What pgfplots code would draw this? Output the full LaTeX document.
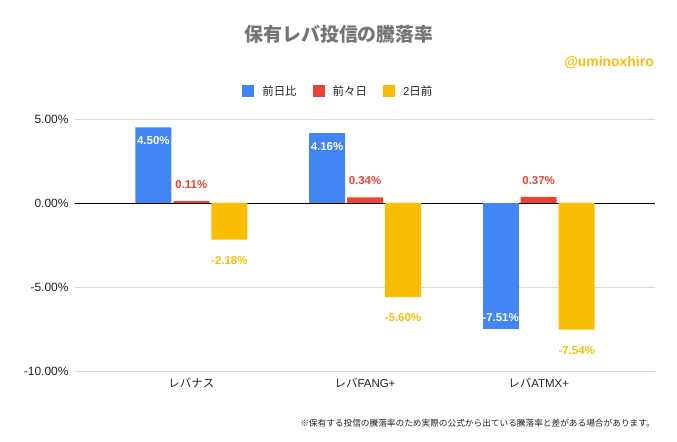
\documentclass[border=0pt]{standalone}
\usepackage{fontspec}
\setmainfont{Liberation Sans}
\newfontfamily\cjk{Noto Sans CJK JP}
\usepackage{pgfplots}
\pgfplotsset{compat=1.18}
\definecolor{gblue}{HTML}{4285F4}
\definecolor{gred}{HTML}{EA4335}
\definecolor{gyellow}{HTML}{FBBC04}
\definecolor{titlegray}{HTML}{757575}
\definecolor{txt}{HTML}{222222}
\definecolor{gridgray}{HTML}{D9D9D9}
\begin{document}
\begin{tikzpicture}
\path[use as bounding box] (0,0) rectangle (677bp,442bp);
\begin{axis}[
  at={(75bp,71bp)}, anchor=south west,
  scale only axis, width=580bp, height=252bp,
  xmin=-0.67, xmax=2.67, ymin=-10, ymax=5,
  axis line style={draw=none}, tick style={draw=none},
  ytick={-10,-5,0,5},
  ymajorgrids, grid style={gridgray, line width=0.8bp},
  extra y ticks={0}, extra y tick labels={},
  extra y tick style={grid style={black, line width=0.8bp}},
  yticklabel={\pgfmathprintnumber[fixed,fixed zerofill,precision=2,assume math mode=true]{\tick}\%},
  yticklabel style={font=\fontsize{12}{14}\selectfont, text=txt, xshift=-3bp},
  xtick={0,1,2},
  xticklabels={{\cjk レバナス},{\cjk レバ}FANG+,{\cjk レバ}ATMX+},
  xticklabel style={font=\fontsize{11.5}{14}\selectfont, text=txt, yshift=-4bp},
  legend columns=3,
  legend style={draw=none, fill=none, at={(axis description cs:0.454,1.111)}, anchor=center,
    font=\fontsize{11.5}{14}\selectfont, text=txt,
    /tikz/every odd column/.append style={column sep=6bp},
    /tikz/every even column/.append style={column sep=14bp}},
  legend image code/.code={\fill[#1] (0bp,-6bp) rectangle (12bp,6bp);},
  every node near coord/.append style={font=\bfseries\fontsize{11.5}{14}\selectfont},
  nodes near coords={\pgfmathprintnumber[fixed,fixed zerofill,precision=2,assume math mode=true]{\pgfplotspointmeta}\%},
]
\addplot[ybar, bar width=36bp, bar shift=-38bp, fill=gblue, draw=none,
  every node near coord/.append style={anchor=north, text=white, xshift=-38bp, yshift=-6bp}]
  coordinates {(0,4.50) (1,4.16)};
\addlegendentry{\cjk 前日比}
\addplot[ybar, bar width=36bp, bar shift=0bp, fill=gred, draw=none,
  every node near coord/.append style={anchor=south, text=gred, yshift=9bp}]
  coordinates {(0,0.11) (1,0.34) (2,0.37)};
\addlegendentry{\cjk 前々日}
\addplot[ybar, bar width=36bp, bar shift=38bp, fill=gyellow, draw=none,
  every node near coord/.append style={anchor=north, text=gyellow, xshift=38bp, yshift=-13bp}]
  coordinates {(0,-2.18) (1,-5.60) (2,-7.54)};
\addlegendentry{2{\cjk 日前}}
\addplot[ybar, bar width=36bp, bar shift=-38bp, fill=gblue, draw=none, forget plot,
  every node near coord/.append style={anchor=south, text=white, xshift=-38bp, yshift=4bp}]
  coordinates {(2,-7.51)};
\end{axis}
\node[font=\cjk\bfseries\fontsize{19}{22}\selectfont, text=titlegray] at (339bp,408bp) {保有レバ投信の騰落率};
\node[anchor=east, font=\bfseries\fontsize{14}{16}\selectfont, text=gyellow, inner sep=0pt] at (654bp,379bp) {@uminoxhiro};
\node[anchor=east, font=\cjk\fontsize{8.7}{11}\selectfont, text=txt, inner sep=0pt] at (655bp,19bp) {※保有する投信の騰落率のため実際の公式から出ている騰落率と差がある場合があります。};
\end{tikzpicture}
\end{document}
